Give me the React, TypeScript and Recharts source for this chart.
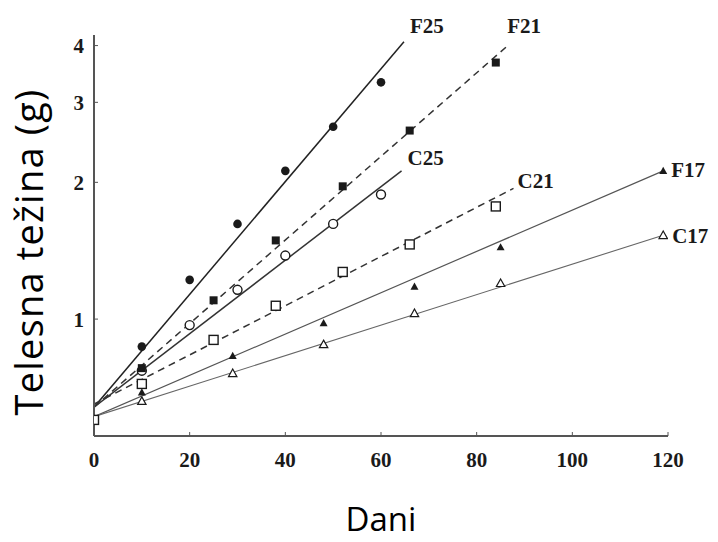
import { ComposedChart, LabelList, Line, Scatter, XAxis, YAxis } from "recharts";

const X_TICKS = [0, 20, 40, 60, 80, 100, 120];
const Y_TICKS = [1, 2, 3, 4];

// measured body mass (g) per day
const F25_DAYS = [10, 20, 30, 40, 50, 60];
const F25_MASS = [0.87, 1.22, 1.62, 2.12, 2.65, 3.32];
const F21_DAYS = [10, 25, 38, 52, 66, 84];
const F21_MASS = [0.78, 1.1, 1.49, 1.96, 2.6, 3.67];
const C25_DAYS = [10, 20, 30, 40, 50, 60];
const C25_MASS = [0.77, 0.97, 1.16, 1.38, 1.62, 1.88];
const C21_DAYS = [0, 10, 25, 38, 52, 66, 84];
const C21_MASS = [0.6, 0.72, 0.9, 1.07, 1.27, 1.46, 1.77];
const F17_DAYS = [10, 29, 48, 67, 85, 119];
const F17_MASS = [0.69, 0.83, 0.98, 1.18, 1.44, 2.12];
const C17_DAYS = [10, 29, 48, 67, 85, 119];
const C17_MASS = [0.66, 0.76, 0.88, 1.03, 1.2, 1.53];

// exponential fits, start and end of each line
const F25_FIT_DAYS = [0, 64.8];
const F25_FIT_MASS = [0.64, 4.08];
const F21_FIT_DAYS = [0, 86.4];
const F21_FIT_MASS = [0.64, 3.99];
const C25_FIT_DAYS = [0, 64.3];
const C25_FIT_MASS = [0.64, 2.12];
const C21_FIT_DAYS = [0, 87.7];
const C21_FIT_MASS = [0.65, 1.94];
const F17_FIT_DAYS = [0, 119];
const F17_FIT_MASS = [0.61, 2.12];
const C17_FIT_DAYS = [0, 119];
const C17_FIT_MASS = [0.61, 1.53];

const points = (days: number[], mass: number[]) =>
  days.map((x, i) => ({ x, y: mass[i] }));

const fit = (days: number[], mass: number[], tag: string) =>
  days.map((x, i) => ({ x, y: mass[i], tag: i === days.length - 1 ? tag : "" }));

const INK = "#1a1a1a";
const SERIF = "'Liberation Serif', 'Times New Roman', serif";
const SANS = "'Open Sans', 'Noto Sans', sans-serif";

const tagAt = (dx: number, dy: number) => (p: any) => {
  if (!p.value) return null;
  return (
    <text
      x={Number(p.x) + dx}
      y={Number(p.y) + dy}
      fontFamily={SERIF}
      fontWeight="bold"
      fontSize={21}
      fill={INK}
    >
      {p.value}
    </text>
  );
};

const filledCircle = (p: any) => <circle cx={p.cx} cy={p.cy} r={4.3} fill={INK} />;
const openCircle = (p: any) => (
  <circle cx={p.cx} cy={p.cy} r={4.5} fill="#fff" stroke={INK} strokeWidth={1.4} />
);
const filledSquare = (p: any) => (
  <rect x={p.cx - 4} y={p.cy - 4} width={8} height={8} fill={INK} />
);
const openSquare = (p: any) => (
  <rect x={p.cx - 4.5} y={p.cy - 4.5} width={9} height={9} fill="#fff" stroke={INK} strokeWidth={1.4} />
);
const tri = (cx: number, cy: number, s: number) =>
  `${cx},${cy - s} ${cx + s},${cy + s * 0.8} ${cx - s},${cy + s * 0.8}`;
const filledTriangle = (p: any) => <polygon points={tri(p.cx, p.cy, 4)} fill={INK} />;
const openTriangle = (p: any) => (
  <polygon points={tri(p.cx, p.cy, 4.2)} fill="#fff" stroke={INK} strokeWidth={1.2} />
);

const yTitle = (p: any) => (
  <text
    transform={`translate(${p.viewBox.x + 43}, 252) rotate(-90)`}
    textAnchor="middle"
    fontFamily={SANS}
    fontSize={38}
    letterSpacing={1.2}
    fill="#000"
  >
    Telesna težina (g)
  </text>
);

const xTitle = (p: any) => (
  <text
    x={p.viewBox.x + p.viewBox.width / 2}
    y={531}
    textAnchor="middle"
    fontFamily={SANS}
    fontSize={33}
    fill="#000"
  >
    Dani
  </text>
);

const tickStyle = { fontFamily: SERIF, fontWeight: "bold", fontSize: 21, fill: INK };
const axisLine = { stroke: "#555", strokeWidth: 2 };

export default function App() {
  return (
    <div style={{ position: "fixed", top: 0, left: 0, width: 718, height: 542, background: "#fff" }}>
      <ComposedChart width={718} height={542} margin={{ top: 35, right: 50, bottom: 0, left: 0 }}>
        <XAxis
          type="number"
          dataKey="x"
          domain={[0, 120]}
          ticks={X_TICKS}
          allowDataOverflow
          height={106}
          tick={tickStyle}
          tickSize={-4}
          tickMargin={20}
          tickLine={{ stroke: "#555" }}
          axisLine={axisLine}
          label={{ content: xTitle }}
        />
        <YAxis
          type="number"
          dataKey="y"
          scale="log"
          domain={[0.553, 4.22]}
          ticks={Y_TICKS}
          allowDataOverflow
          width={94}
          tick={tickStyle}
          tickSize={-4}
          tickMargin={14}
          tickLine={{ stroke: "#555" }}
          axisLine={axisLine}
          label={{ content: yTitle }}
        />

        <Line data={fit(F25_FIT_DAYS, F25_FIT_MASS, "F25")} dataKey="y" type="linear" stroke="#222" strokeWidth={1.5} dot={false} activeDot={false} isAnimationActive={false}>
          <LabelList dataKey="tag" content={tagAt(6, -9)} />
        </Line>
        <Line data={fit(F21_FIT_DAYS, F21_FIT_MASS, "F21")} dataKey="y" type="linear" stroke="#333" strokeWidth={1.5} strokeDasharray="7 5" dot={false} activeDot={false} isAnimationActive={false}>
          <LabelList dataKey="tag" content={tagAt(0, -13)} />
        </Line>
        <Line data={fit(C25_FIT_DAYS, C25_FIT_MASS, "C25")} dataKey="y" type="linear" stroke="#333" strokeWidth={1.5} dot={false} activeDot={false} isAnimationActive={false}>
          <LabelList dataKey="tag" content={tagAt(6, -6)} />
        </Line>
        <Line data={fit(C21_FIT_DAYS, C21_FIT_MASS, "C21")} dataKey="y" type="linear" stroke="#333" strokeWidth={1.5} strokeDasharray="7 5" dot={false} activeDot={false} isAnimationActive={false}>
          <LabelList dataKey="tag" content={tagAt(4, 0)} />
        </Line>
        <Line data={fit(F17_FIT_DAYS, F17_FIT_MASS, "F17")} dataKey="y" type="linear" stroke="#555" strokeWidth={1.2} dot={false} activeDot={false} isAnimationActive={false}>
          <LabelList dataKey="tag" content={tagAt(8, 6)} />
        </Line>
        <Line data={fit(C17_FIT_DAYS, C17_FIT_MASS, "C17")} dataKey="y" type="linear" stroke="#666" strokeWidth={1.1} dot={false} activeDot={false} isAnimationActive={false}>
          <LabelList dataKey="tag" content={tagAt(9, 8)} />
        </Line>

        <Scatter data={points(C17_DAYS, C17_MASS)} shape={openTriangle} isAnimationActive={false} />
        <Scatter data={points(F17_DAYS, F17_MASS)} shape={filledTriangle} isAnimationActive={false} />
        <Scatter data={points(C21_DAYS, C21_MASS)} shape={openSquare} isAnimationActive={false} />
        <Scatter data={points(C25_DAYS, C25_MASS)} shape={openCircle} isAnimationActive={false} />
        <Scatter data={points(F21_DAYS, F21_MASS)} shape={filledSquare} isAnimationActive={false} />
        <Scatter data={points(F25_DAYS, F25_MASS)} shape={filledCircle} isAnimationActive={false} />
      </ComposedChart>
    </div>
  );
}
